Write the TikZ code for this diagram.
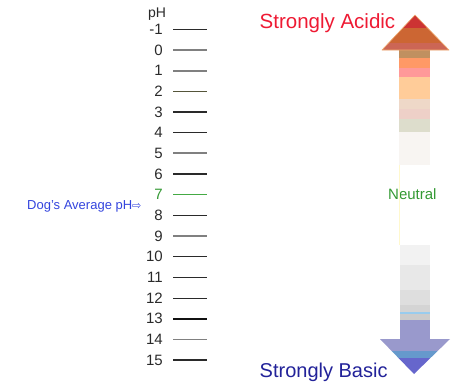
\documentclass[tikz,border=0pt]{standalone}
\usepackage{fontspec}
\setmainfont{Liberation Sans}
\newfontfamily\symfont{DejaVu Sans}
\definecolor{acidred}{HTML}{EE1A33}
\definecolor{basicblue}{HTML}{222299}
\definecolor{neutgreen}{HTML}{339933}
\definecolor{dogblue}{HTML}{3344DD}
\definecolor{tdk}{HTML}{2A2A2A}
\definecolor{tgr}{HTML}{808080}
\definecolor{tol}{HTML}{55553A}
\definecolor{tgn}{HTML}{44AA44}
\definecolor{tbk}{HTML}{111111}
\begin{document}
\begin{tikzpicture}[x=1pt,y=-1pt,
  numlbl/.style={anchor=east,inner sep=0pt,font=\fontsize{15}{18}\selectfont,text=tdk},
  band/.style={draw=none},
  title/.style={anchor=base west,inner sep=0pt}]
\useasboundingbox (0,0) rectangle (461,389);
% pH scale
\node[anchor=base west,inner sep=0pt,font=\fontsize{14}{16}\selectfont,text=tdk] (ph) at (148,17.5) {pH};
\foreach \n/\c/\w [count=\i from 0] in {-1/tdk/1.6,0/tgr/1.8,1/tgr/2,2/tol/1.1,3/tdk/1.6,4/tdk/1.1,5/tgr/2,6/tdk/1.3,7/tgn/1,8/tdk/1.3,9/tgr/2,10/tdk/1.1,11/tdk/1.6,12/tdk/1.1,13/tbk/2,14/tgr/1.6,15/tdk/1.4}{
  \pgfmathsetmacro{\yy}{29.5+20.66*\i}
  \ifnum\n=7
    \node[numlbl,text=neutgreen] (n\i) at (163,\yy) {\n};
  \else
    \node[numlbl] (n\i) at (163,\yy) {\n};
  \fi
  \draw[\c,line width=\w pt] (173,\yy) -- (206.5,\yy);
}
% Dog's average
\node[anchor=base west,inner sep=0pt,text=dogblue,font=\fontsize{13}{15}\selectfont] (dog) at (27,209) {Dog's Average pH{\symfont\fontsize{11}{13}\selectfont ⇨}};
% titles
\node[title,text=acidred,font=\fontsize{20.5}{24}\selectfont] (acid) at (259.5,28.5) {Strongly Acidic};
\node[title,text=basicblue,font=\fontsize{20}{24}\selectfont] (basic) at (259.5,377.5) {Strongly Basic};
\node[title,text=neutgreen,font=\fontsize{15}{18}\selectfont] (neut) at (388,199) {Neutral};
% faint yellow line
\draw[color={rgb,255:red,255;green,248;blue,205},line width=1pt] (399,107) -- (399,245);
% top arrow shaft bands
\fill[band,color={rgb,255:red,192;green,144;blue,96}] (399,50) rectangle (430,58);
\fill[band,color={rgb,255:red,255;green,153;blue,102}] (399,58) rectangle (430,68);
\fill[band,color={rgb,255:red,255;green,153;blue,153}] (399,68) rectangle (430,77);
\fill[band,color={rgb,255:red,255;green,204;blue,153}] (399,77) rectangle (430,99);
\fill[band,color={rgb,255:red,238;green,216;blue,200}] (399,99) rectangle (430,109);
\fill[band,color={rgb,255:red,238;green,208;blue,200}] (399,109) rectangle (430,119);
\fill[band,color={rgb,255:red,221;green,221;blue,204}] (399,119) rectangle (430,132);
\fill[band,color={rgb,255:red,248;green,245;blue,242}] (399,132) rectangle (430,165);
% top arrowhead
\begin{scope}
  \clip (415,15) -- (449,50) -- (382,50) -- cycle;
  \fill[color={rgb,255:red,204;green,51;blue,51}] (380,14) rectangle (450,28);
  \fill[color={rgb,255:red,204;green,102;blue,51}] (380,28) rectangle (450,43);
  \fill[color={rgb,255:red,204;green,102;blue,85}] (380,43) rectangle (450,50.5);
\end{scope}
\draw[color={rgb,255:red,240;green,170;blue,110},line width=0.6pt,line join=round] (415,15) -- (449,50) -- (382,50) -- cycle;
% bottom arrow shaft bands
\fill[band,color={rgb,255:red,242;green,242;blue,242}] (400,245) rectangle (430,265);
\fill[band,color={rgb,255:red,232;green,232;blue,232}] (400,265) rectangle (430,290);
\fill[band,color={rgb,255:red,222;green,222;blue,222}] (400,290) rectangle (430,305);
\fill[band,color={rgb,255:red,212;green,212;blue,212}] (400,305) rectangle (430,312);
\fill[band,color={rgb,255:red,153;green,204;blue,238}] (400,312) rectangle (430,314);
\fill[band,color={rgb,255:red,204;green,204;blue,204}] (400,314) rectangle (430,320);
\fill[band,color={rgb,255:red,153;green,153;blue,204}] (400,320) rectangle (430,340);
% bottom arrowhead
\begin{scope}
  \clip (380,339) -- (450,339) -- (414,374) -- cycle;
  \fill[color={rgb,255:red,153;green,153;blue,204}] (378,338) rectangle (452,351);
  \fill[color={rgb,255:red,102;green,153;blue,204}] (378,351) rectangle (452,358);
  \fill[color={rgb,255:red,102;green,102;blue,204}] (378,358) rectangle (452,376);
\end{scope}
\end{tikzpicture}
\end{document}
